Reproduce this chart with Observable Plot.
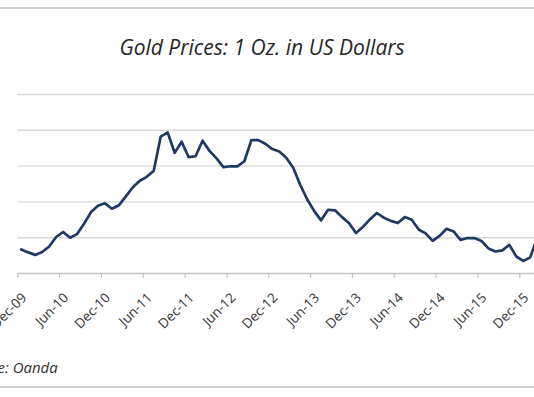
<!DOCTYPE html>
<html>
<head>
<meta charset="utf-8">
<script src="https://cdn.jsdelivr.net/npm/d3@7"></script>
<script src="https://cdn.jsdelivr.net/npm/@observablehq/plot@0.6"></script>
<style>
  html, body { margin: 0; padding: 0; background: #fff; }
  #wrap { position: relative; width: 534px; height: 397px; overflow: hidden; background: #fff; }
  #wrap svg { position: absolute; left: 0; top: 0; }
  .rule { position: absolute; left: 0; width: 534px; height: 0; border-top: 2px solid #cfcfcf; }
  #title { position: absolute; left: -5px; width: 534px; top: 33px; text-align: center;
           font-family: "Open Sans", sans-serif; font-style: italic; font-size: 21px; color: #262626; white-space: nowrap; }
  #source { position: absolute; left: 12.7px; top: 357px; font-family: "Open Sans", sans-serif;
            font-style: italic; font-size: 15px; color: #333; white-space: nowrap; }
  #source span { position: absolute; right: 100%; white-space: pre; }
</style>
</head>
<body>
<div id="wrap">
  <div class="rule" style="top:7px"></div>
  <div id="title">Gold Prices: 1 Oz. in US Dollars</div>
  <div id="source"><span>Source: </span>Oanda</div>
  <div class="rule" style="top:386px"></div>
</div>
<script>
// Monthly categories (Excel date axis, one point per month)
const months = [
  "Dec-09","Jan-10","Feb-10","Mar-10","Apr-10","May-10","Jun-10","Jul-10","Aug-10","Sep-10","Oct-10","Nov-10",
  "Dec-10","Jan-11","Feb-11","Mar-11","Apr-11","May-11","Jun-11","Jul-11","Aug-11","Sep-11","Oct-11","Nov-11",
  "Dec-11","Jan-12","Feb-12","Mar-12","Apr-12","May-12","Jun-12","Jul-12","Aug-12","Sep-12","Oct-12","Nov-12",
  "Dec-12","Jan-13","Feb-13","Mar-13","Apr-13","May-13","Jun-13","Jul-13","Aug-13","Sep-13","Oct-13","Nov-13",
  "Dec-13","Jan-14","Feb-14","Mar-14","Apr-14","May-14","Jun-14","Jul-14","Aug-14","Sep-14","Oct-14","Nov-14",
  "Dec-14","Jan-15","Feb-15","Mar-15","Apr-15","May-15","Jun-15","Jul-15","Aug-15","Sep-15","Oct-15","Nov-15",
  "Dec-15","Jan-16","Feb-16"
];
// Gold price, USD per ounce
const prices = [
  1134,1118,1104,1120,1151,1204,1232,1200,1220,1278,1343,1378,
  1392,1362,1381,1431,1482,1518,1540,1574,1765,1788,1674,1736,
  1650,1655,1742,1685,1643,1594,1599,1599,1627,1745,1745,1725,
  1695,1681,1647,1591,1496,1415,1350,1297,1356,1353,1315,1282,
  1226,1260,1302,1338,1312,1294,1282,1315,1300,1246,1224,1182,
  1210,1250,1235,1188,1198,1198,1182,1140,1123,1129,1160,1095,
  1070,1090,1200
];
// Axis tick labels
const tickLabels = ["Dec-09","Jun-10","Dec-10","Jun-11","Dec-11","Jun-12","Dec-12",
                    "Jun-13","Dec-13","Jun-14","Dec-14","Jun-15","Dec-15"];
const yTicks = [1200, 1400, 1600, 1800, 2000];

const data = months.map((m, i) => ({i, month: m, price: prices[i]}));
const tickPos = tickLabels.map(l => months.indexOf(l));

const W = 534, H = 397, mL = 17.3, pxPerMonth = 6.972;
const chart = Plot.plot({
  width: W, height: H,
  marginLeft: mL, marginRight: 0, marginTop: 94, marginBottom: H - 273,
  x: {type: "linear", domain: [0, (W - mL) / pxPerMonth], axis: null},
  y: {domain: [1000, 2000], axis: null},
  style: {fontFamily: "Open Sans, sans-serif", background: "transparent"},
  marks: [
    Plot.gridY(yTicks, {stroke: "#d9d9d9", strokeOpacity: 1, strokeWidth: 1.4}),
    Plot.ruleY([1000], {stroke: "#c4c4c4", strokeWidth: 1.4}),
    Plot.axisX(tickPos, {tickSize: 5, stroke: "#c4c4c4", strokeWidth: 1.2, tickFormat: () => ""}),
    Plot.text(tickLabels, {
      x: d => months.indexOf(d), y: () => 1000, text: d => d,
      rotate: -45, textAnchor: "end", dx: 6.5, dy: 22,
      fontSize: 13.5, fill: "#333"
    }),
    Plot.line(data, {x: d => d.i + 0.5, y: "price", stroke: "#203864", strokeWidth: 2.7,
      strokeLinejoin: "round", clip: true})
  ]
});
document.getElementById("wrap").prepend(chart);
</script>
</body>
</html>
